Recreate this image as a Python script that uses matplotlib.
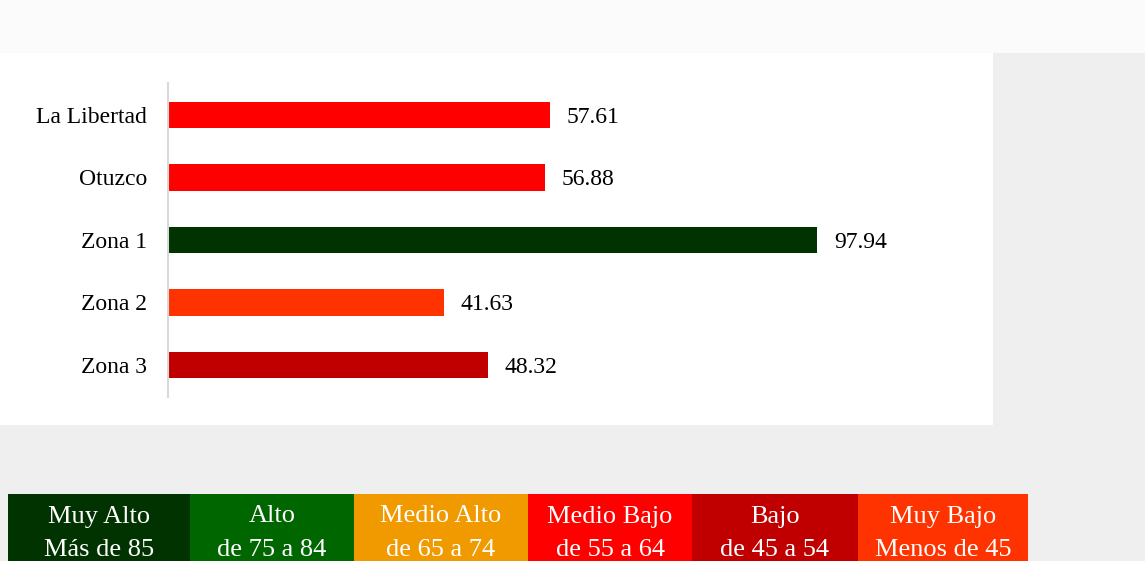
import matplotlib.pyplot as plt
from matplotlib.patches import Rectangle

# bar data
categories = ["La Libertad", "Otuzco", "Zona 1", "Zona 2", "Zona 3"]
values = [57.61, 56.88, 97.94, 41.63, 48.32]
bar_colors = ["#ff0000", "#ff0000", "#003300", "#ff3300", "#c00000"]

# level legend
level_names = ["Muy Alto", "Alto", "Medio Alto", "Medio Bajo", "Bajo", "Muy Bajo"]
level_ranges = ["Más de 85", "de 75 a 84", "de 65 a 74", "de 55 a 64", "de 45 a 54", "Menos de 45"]
level_colors = ["#003300", "#006600", "#f09a00", "#ff0000", "#c00000", "#ff3300"]

W, H = 1145, 561
fig = plt.figure(figsize=(W / 100, H / 100), dpi=100)
fig.patch.set_facecolor("#efeff0")

# background panels (pixel coords -> figure fraction)
def px_rect(x0, y0, x1, y1, color, z=-10):
    fig.patches.append(Rectangle((x0 / W, 1 - y1 / H), (x1 - x0) / W, (y1 - y0) / H,
                                 transform=fig.transFigure, facecolor=color,
                                 edgecolor="none", zorder=z))

px_rect(0, 0, W, 53, "#fbfbfb")
px_rect(0, 53, 993, 425, "white")

ax = fig.add_axes([168 / W, 1 - 397 / H, 822 / W, 314 / H])
ax.set_facecolor("none")
ypos = list(range(len(categories)))
ax.barh(ypos, values, height=0.42, color=bar_colors)
ax.set_xlim(0, 124)
ax.set_ylim(4.512, -0.512)
ax.set_yticks(ypos)
ax.set_yticklabels(categories, fontsize=17, family="Liberation Serif")
ax.tick_params(axis="y", length=0, pad=15)
ax.set_xticks([])
for s in ["top", "right", "bottom"]:
    ax.spines[s].set_visible(False)
ax.spines["left"].set_color("#d9d9d9")
ax.spines["left"].set_linewidth(1.5)

for y, v in zip(ypos, values):
    ax.text(v + 2.5, y, f"{v:.2f}", va="center_baseline", ha="left", fontsize=17,
            family="Liberation Serif", color="black")

# legend boxes along the bottom
edges = [8, 190, 354, 528, 692, 858, 1028]
for i, (name, rng, col) in enumerate(zip(level_names, level_ranges, level_colors)):
    x0, x1 = edges[i], edges[i + 1]
    px_rect(x0, 494, x1, H, col, z=1)
    xc = (x0 + x1) / 2 / W
    fig.text(xc, 1 - 514 / H, name, ha="center", va="center_baseline", color="white",
             fontsize=19, family="Liberation Serif", zorder=2)
    fig.text(xc, 1 - 547 / H, rng, ha="center", va="center_baseline", color="white",
             fontsize=19, family="Liberation Serif", zorder=2)

fig.savefig("out.png", dpi=100, facecolor=fig.get_facecolor())
